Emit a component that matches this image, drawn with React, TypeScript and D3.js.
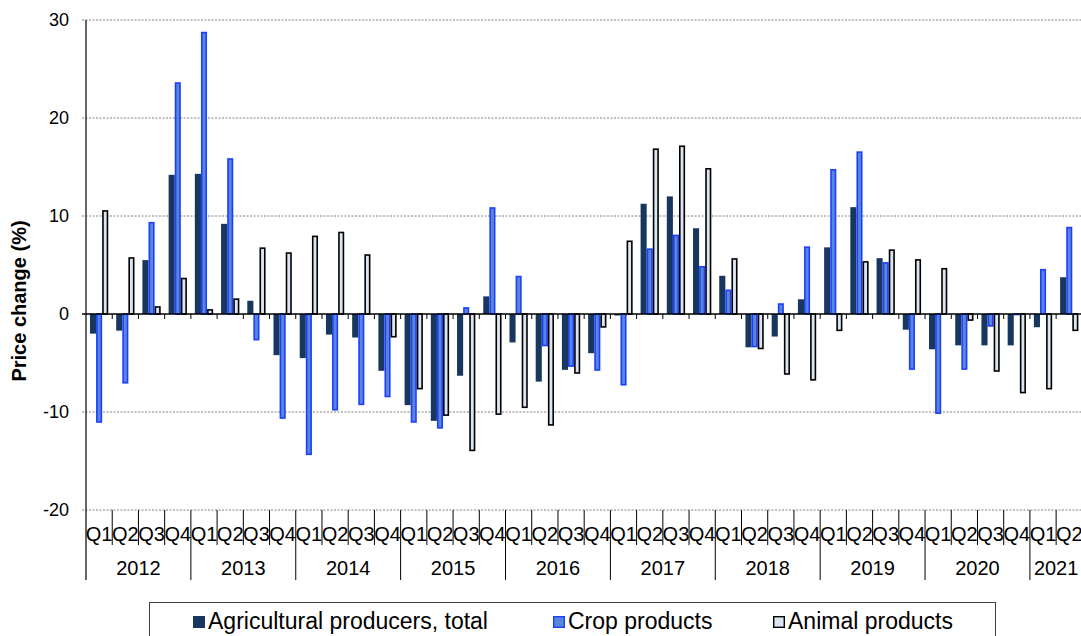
import * as React from "react";
import * as d3 from "d3";

const years = ["2012", "2013", "2014", "2015", "2016", "2017", "2018", "2019", "2020", "2021"];
const quarterNames = ["Q1", "Q2", "Q3", "Q4"];
// quarters 2012 Q1 .. 2021 Q2
const periods = years.flatMap((y) => quarterNames.map((q) => y + " " + q)).slice(0, 38);

const total = [-2.0, -1.7, 5.5, 14.2, 14.3, 9.2, 1.35, -4.2, -4.5, -2.1, -2.4, -5.8, -9.3, -10.9, -6.3, 1.8,
  -2.9, -6.9, -5.7, -4.0, -0.15, 11.25, 12.0, 8.75, 3.9, -3.4, -2.3, 1.5, 6.8, 10.9, 5.7, -1.6,
  -3.6, -3.2, -3.2, -3.2, -1.35, 3.75];
const crop = [-11.1, -7.1, 9.4, 23.65, 28.8, 15.9, -2.7, -10.7, -14.4, -9.85, -9.3, -8.5, -11.1, -11.7, 0.7, 10.9,
  3.9, -3.3, -5.4, -5.8, -7.3, 6.7, 8.1, 4.9, 2.5, -3.4, 1.1, 6.9, 14.8, 16.6, 5.3, -5.7,
  -10.2, -5.7, -1.3, -0.1, 4.6, 8.9];
const animal = [10.6, 5.8, 0.8, 3.7, 0.5, 1.6, 6.8, 6.3, 8.0, 8.4, 6.1, -2.4, -7.7, -10.4, -14.0, -10.3,
  -9.6, -11.4, -6.1, -1.4, 7.5, 16.9, 17.2, 14.9, 5.7, -3.6, -6.2, -6.8, -1.75, 5.4, 6.6, 5.6,
  4.7, -0.7, -5.9, -8.1, -7.7, -1.75];

const seriesNames = ["Agricultural producers, total", "Crop products", "Animal products"];
const yTicks = [30, 20, 10, 0, -10, -20];

const W = 1081;
const H = 636;
const FONT = "'Liberation Sans', Arial, sans-serif";

function drawChart(svgEl: SVGSVGElement) {
  const svg = d3.select(svgEl);
  svg.selectAll("*").remove();

  const left = 86;
  const right = left + 38 * 26.22;
  const top = 20;
  const bottom = 510;

  const y = d3.scaleLinear().domain([-20, 30]).range([bottom, top]);
  const x0 = d3.scaleBand<number>().domain(d3.range(periods.length)).range([left, right]).padding(0);
  const x1 = d3.scaleBand<number>().domain([0, 1, 2]).range([0, x0.bandwidth()]).paddingInner(0).paddingOuter(0.65);

  const styles = [
    { fill: "#17375e", stroke: "none", sw: 0 },
    { fill: "#5687d8", stroke: "#1f3dff", sw: 1.6 },
    { fill: "#dce6f2", stroke: "#000000", sw: 1.6 },
  ];
  const series = [total, crop, animal];

  // grid lines
  yTicks.filter((t) => t !== 0).forEach((t) => {
    svg.append("line")
      .attr("x1", left - 4).attr("x2", W)
      .attr("y1", y(t)).attr("y2", y(t))
      .attr("stroke", "#808080").attr("stroke-width", 1)
      .attr("stroke-dasharray", "2,1.5");
  });

  // y tick labels
  svg.append("g").selectAll("text").data(yTicks).enter().append("text")
    .attr("x", 69).attr("y", (d) => y(d))
    .attr("dy", "0.36em")
    .attr("text-anchor", "end")
    .attr("font-family", FONT).attr("font-size", 18)
    .text((d) => d);

  // y axis title
  svg.append("text")
    .attr("transform", "translate(26,301) rotate(-90)")
    .attr("text-anchor", "middle")
    .attr("font-family", FONT).attr("font-size", 20).attr("font-weight", "bold")
    .text("Price change (%)");

  // bars
  series.forEach((vals, s) => {
    const st = styles[s];
    svg.append("g").selectAll("rect").data(vals).enter().append("rect")
      .attr("x", (d, i) => (x0(i) as number) + (x1(s) as number) + st.sw / 2)
      .attr("width", x1.bandwidth() - st.sw)
      .attr("y", (d) => Math.min(y(d), y(0)) + (d >= 0 ? st.sw / 2 : 0))
      .attr("height", (d) => Math.max(0.5, Math.abs(y(d) - y(0)) - st.sw / 2))
      .attr("fill", st.fill)
      .attr("stroke", st.stroke)
      .attr("stroke-width", st.sw);
  });

  // zero axis with quarter ticks
  svg.append("line")
    .attr("x1", left - 4).attr("x2", W)
    .attr("y1", y(0)).attr("y2", y(0))
    .attr("stroke", "#000").attr("stroke-width", 1.6);
  svg.append("g").selectAll("line").data(d3.range(1, periods.length + 1)).enter().append("line")
    .attr("x1", (i) => left + i * x0.step()).attr("x2", (i) => left + i * x0.step())
    .attr("y1", y(0)).attr("y2", y(0) + 5)
    .attr("stroke", "#000").attr("stroke-width", 1);

  // left axis line
  svg.append("line")
    .attr("x1", left).attr("x2", left)
    .attr("y1", top).attr("y2", 580)
    .attr("stroke", "#000").attr("stroke-width", 1.2);

  // quarter / year category separators
  svg.append("g").selectAll("line").data(d3.range(1, periods.length + 1)).enter().append("line")
    .attr("x1", (i) => left + i * x0.step()).attr("x2", (i) => left + i * x0.step())
    .attr("y1", bottom).attr("y2", (i) => (i % 4 === 0 ? 580 : 545))
    .attr("stroke", "#000").attr("stroke-width", 1);

  svg.append("g").selectAll("text").data(periods).enter().append("text")
    .attr("x", (d, i) => (x0(i) as number) + x0.bandwidth() / 2)
    .attr("y", 541)
    .attr("text-anchor", "middle")
    .attr("font-family", FONT).attr("font-size", 20)
    .text((d) => d.split(" ")[1]);

  svg.append("g").selectAll("text").data(years).enter().append("text")
    .attr("x", (d, k) => {
      const first = k * 4;
      const last = Math.min(k * 4 + 3, periods.length - 1);
      return ((x0(first) as number) + (x0(last) as number) + x0.bandwidth()) / 2;
    })
    .attr("y", 575)
    .attr("text-anchor", "middle")
    .attr("font-family", FONT).attr("font-size", 20)
    .text((d) => d);

  // legend
  const lg = svg.append("g");
  lg.append("rect")
    .attr("x", 149.5).attr("y", 602.5).attr("width", 846).attr("height", 50)
    .attr("fill", "#fff").attr("stroke", "#404040").attr("stroke-width", 1);
  const legendX = [193, 553, 773];
  seriesNames.forEach((name, s) => {
    const st = styles[s];
    const sw = s === 0 ? 0 : 1.4;
    lg.append("rect")
      .attr("x", legendX[s] + sw / 2).attr("y", 616 + sw / 2)
      .attr("width", 12 - sw).attr("height", 12 - sw)
      .attr("fill", st.fill).attr("stroke", st.stroke).attr("stroke-width", sw);
    lg.append("text")
      .attr("x", legendX[s] + 15).attr("y", 629)
      .attr("font-family", FONT).attr("font-size", 23)
      .text(name);
  });
}

const App = () => {
  const svgRef = React.useRef<SVGSVGElement>(null);
  React.useEffect(() => {
    document.body.style.margin = "0";
    if (svgRef.current) drawChart(svgRef.current);
  }, []);

  return (
    <div id="chart">
      <svg ref={svgRef} width={W} height={H} style={{ display: "block", background: "#fff" }}></svg>
    </div>
  );
};

export default App;
